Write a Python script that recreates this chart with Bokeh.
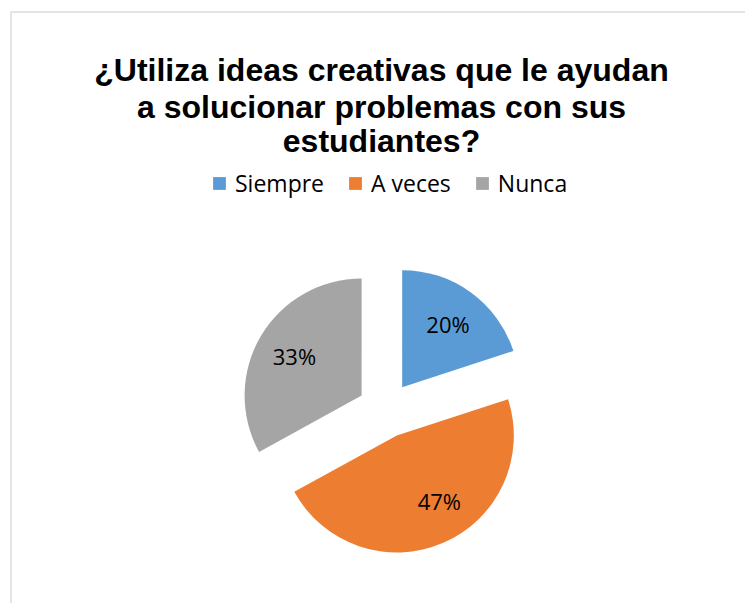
import numpy as np
from bokeh.plotting import figure
from bokeh.models import Range1d, BoxAnnotation, Legend, LegendItem, ColumnDataSource
from bokeh.core.properties import value
from bokeh.embed import file_html
from bokeh.resources import INLINE

# ---- data ----
title_lines = ["¿Utiliza ideas creativas que le ayudan",
               "a solucionar problemas con sus",
               "estudiantes?"]
categories = ["Siempre", "A veces", "Nunca"]
values = [20, 47, 33]
colors = ["#5b9bd5", "#ed7d31", "#a5a5a5"]

# ---- layout / style ----
W, H = 745, 603
cx, cy = 385.2, H - 409.3     # pie centre (px, y up)
R = 117                        # radius
explode = 28                   # explosion distance
label_dist = 78
label_adjust_deg = [0, 9.6, 0]  # nudge of label angle

p = figure(width=W, height=H, output_backend="svg", toolbar_location=None,
           x_range=Range1d(0, W), y_range=Range1d(0, H), min_border=0)
p.axis.visible = False
p.grid.visible = False
p.outline_line_color = None
p.background_fill_color = "white"
p.border_fill_color = "white"

# chart-area border (extends beyond the window on right & bottom)
p.add_layout(BoxAnnotation(left=10.5, top=H - 11.5, right=5000, bottom=-5000,
                           fill_color=None, line_color="#8c8c8c", line_width=1.5))

vals = np.array(values, dtype=float)
frac = vals / vals.sum()
cum_end = np.cumsum(frac)
cum_start = cum_end - frac
start_angle = np.pi / 2 - 2 * np.pi * cum_end
end_angle = np.pi / 2 - 2 * np.pi * cum_start
mid = (start_angle + end_angle) / 2
xs = cx + explode * np.cos(mid)
ys = cy + explode * np.sin(mid)

src = ColumnDataSource(dict(x=xs, y=ys, start=start_angle, end=end_angle,
                            color=colors, cat=categories))
r = p.wedge(x="x", y="y", radius=R, start_angle="start", end_angle="end",
            fill_color="color", line_color="white", line_width=0, source=src)

lab_ang = mid + np.radians(label_adjust_deg)
lx = xs + label_dist * np.cos(lab_ang)
ly = ys + label_dist * np.sin(lab_ang)
labels = [f"{v:.0f}%" for v in frac * 100]
p.text(x=lx, y=ly, text=labels, text_font=value("Open Sans"), text_font_size="22px",
       text_align="center", text_baseline="middle", text_color="#000000")

# title
title_x = 381
title_baselines = [H - 69.5, H - 106, H - 140]
p.text(x=[title_x] * 3, y=title_baselines, text=title_lines,
       text_font=value("Liberation Sans"), text_font_size="32px", text_font_style="bold",
       text_align="center", text_baseline="alphabetic", text_color="#000000")

legend = Legend(items=[LegendItem(label=c, renderers=[r], index=i) for i, c in enumerate(categories)],
                orientation="horizontal", location=(211, H - 199),
                glyph_width=16, glyph_height=16, label_standoff=8, spacing=23,
                padding=0, margin=0, border_line_color=None, background_fill_alpha=0,
                label_text_font="Open Sans", label_text_font_size="23px",
                label_text_color="#000000", label_height=13)
p.add_layout(legend)

open("out.html", "w").write(file_html(p, INLINE))
